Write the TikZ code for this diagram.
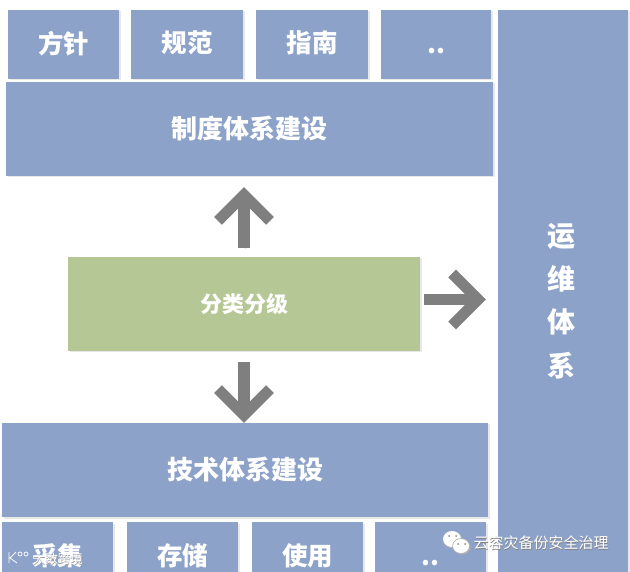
\documentclass[tikz,border=0pt]{standalone}
\usepackage{fontspec}
\setmainfont{Noto Sans CJK SC}
\usetikzlibrary{shadows,calc}
\definecolor{boxblue}{HTML}{8DA2C8}
\definecolor{boxgreen}{HTML}{B5C795}
\definecolor{arrowgray}{HTML}{7F7F7F}
\tikzset{
  panel/.style={fill=#1,draw=none,inner sep=0pt,outer sep=0pt,text=white,
    font=\bfseries\fontsize{25.5}{30}\selectfont,
    copy shadow={shadow xshift=1.5pt,shadow yshift=-1.5pt,opacity=.09,fill=black,draw=none}},
  smallbox/.style={panel=boxblue,minimum width=111pt,minimum height=69pt},
  lowbox/.style={panel=boxblue,minimum width=111pt,minimum height=68pt},
  widebox/.style={panel=boxblue,minimum height=94pt,font=\bfseries\fontsize{26}{30}\selectfont},
  arrowshaft/.style={draw=arrowgray,line width=11.5pt,line cap=butt,
    preaction={draw=black!12,transform canvas={shift={(1.5pt,-1.5pt)}}}},
  arrowhead/.style={draw=arrowgray,line width=11pt,line cap=butt,line join=miter,
    preaction={draw=black!12,transform canvas={shift={(1.5pt,-1.5pt)}}}},
  wmark/.style={text=white,inner sep=0pt,font=\fontsize{#1}{#1}\selectfont},
}
\begin{document}
\begin{tikzpicture}[x=1pt,y=-1pt]
\useasboundingbox (0,0) rectangle (630,572);
\clip (0,0) rectangle (630,572);
\fill[white] (0,0) rectangle (630,572);

% right column
\node[panel=boxblue,minimum width=130pt,minimum height=562pt] (ops) at (563,291) {};
\node[text=white,inner sep=0pt,align=center,font=\bfseries\fontsize{28}{43.3}\selectfont] (opslabel) at (561,301) {运\\维\\体\\系};

% top row
\node[smallbox] (t1) at (63.5,44.5) {\raisebox{5pt}{方针}};
\node[smallbox,minimum width=112pt] (t2) at (187,44.5) {\raisebox{5pt}{规范}};
\node[smallbox,minimum width=112pt] (t3) at (312,44.5) {\raisebox{5pt}{指南}};
\node[smallbox,minimum width=110pt] (t4) at (436,44.5) {\raisebox{5pt}{\vphantom{方}..}};

\node[widebox,minimum width=487pt] (policy) at (249.5,129) {制度体系建设};
\node[panel=boxgreen,minimum width=352pt,minimum height=94pt,font=\bfseries\fontsize{22}{26}\selectfont] (cls) at (244,304) {分类分级};
\node[widebox,minimum width=486pt] (tech) at (245,470) {技术体系建设};

% bottom row
\node[lowbox] (b1) at (57.5,556) {采集};
\node[lowbox] (b2) at (182.5,556) {存储};
\node[lowbox] (b3) at (307.5,556) {使用};
\node[lowbox] (b4) at (430.5,556) {\vphantom{方}..};

% arrows: shaft between the nodes, chevron at the tip
\coordinate (uptip) at ($(cls.north |- policy.south)+(0,11)$);
\coordinate (downtip) at (cls.south |- tech.north);
\coordinate (rs) at ($(cls.east)+(0,-4.5)$);
\coordinate (righttip) at ($(rs -| ops.west)+(-12,0)$);
\draw[arrowshaft,shorten <=9pt,shorten >=9pt] (cls.north) -- (uptip);
\draw[arrowhead,shift={(uptip)}] (-26,33.8) -- (0,7.8) -- (26,33.8);
\draw[arrowshaft,shorten <=11pt,shorten >=9pt] (cls.south) -- (downtip);
\draw[arrowhead,shift={(downtip)},rotate=180] (-26,33.8) -- (0,7.8) -- (26,33.8);
\draw[arrowshaft,shorten <=4pt,shorten >=9pt] (rs) -- (righttip);
\draw[arrowhead,shift={(righttip)},rotate=-90] (-26,33.8) -- (0,7.8) -- (26,33.8);

% watermark right
\fill[black!30] (453,540) ellipse [x radius=9.5pt,y radius=8.5pt];
\fill[black!30] (462,547) ellipse [x radius=8.5pt,y radius=7.5pt];
\fill[white] (452,539) ellipse [x radius=9pt,y radius=8pt];
\fill[black!30] (461,546) ellipse [x radius=8.8pt,y radius=7.8pt];
\fill[white] (461,546) ellipse [x radius=8pt,y radius=7pt];
\fill[black!45] (449,536) circle (1pt) (456,536) circle (1pt) (458,544) circle (1pt) (465,544) circle (1pt);
\node[wmark=15,text=black!50] (wm2s) at (541.6,543.6) {云容灾备份安全治理};
\node[wmark=15] (wm2) at (541,543) {云容灾备份安全治理};

% watermark left
\draw[white,line width=.8pt] (9,552) -- (9,563) (16,552) -- (10,558) -- (17,563);
\draw[white,line width=.7pt] (20,554) circle (2pt) (26,554) circle (2pt);
\node[wmark=12.5,text=black!40] (wm1s) at (58.5,559.5) {大数跨境};
\node[wmark=12.5] (wm1) at (58,559) {大数跨境};
\end{tikzpicture}
\end{document}
